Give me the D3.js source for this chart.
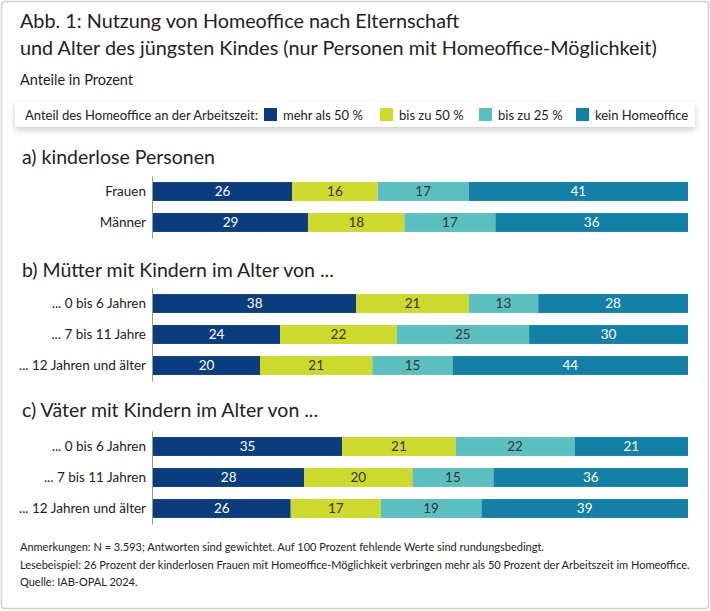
<!DOCTYPE html>
<html>
<head>
<meta charset="utf-8">
<script src="https://cdn.jsdelivr.net/npm/d3@7"></script>
<style>
  body { margin: 0; background: #fff; }
  svg text { font-family: Lato, sans-serif; fill: #222; }
</style>
</head>
<body>
<div id="chart"></div>
<script>
// -------------------- DATA --------------------

const categories = ["mehr als 50 %", "bis zu 50 %", "bis zu 25 %", "kein Homeoffice"];
const colors = ["#0b3d7e", "#cdd92b", "#5bbfbf", "#1380a8"];
const labelColors = ["#fff", "#333", "#333", "#fff"];

const panelTitles = ["a) kinderlose Personen", "b) Mütter mit Kindern im Alter von ...", "c) Väter mit Kindern im Alter von ..."];

const rowsA = ["Frauen", "Männer"];
const valuesA = [[26, 16, 17, 41], [29, 18, 17, 36]];

const rowsB = ["... 0 bis 6 Jahren", "... 7 bis 11 Jahre", "... 12 Jahren und älter"];
const valuesB = [[38, 21, 13, 28], [24, 22, 25, 30], [20, 21, 15, 44]];

const rowsC = ["... 0 bis 6 Jahren", "... 7 bis 11 Jahren", "... 12 Jahren und älter"];
const valuesC = [[35, 21, 22, 21], [28, 20, 15, 36], [26, 17, 19, 39]];

const notes = [
    "Anmerkungen: N = 3.593; Antworten sind gewichtet. Auf 100 Prozent fehlende Werte sind rundungsbedingt.",
    "Lesebeispiel: 26 Prozent der kinderlosen Frauen mit Homeoffice-Möglichkeit verbringen mehr als 50 Prozent der Arbeitszeit im Homeoffice.",
    "Quelle: IAB-OPAL 2024."
];

// -------------------- VISUALIZATION --------------------

const width = 710, height = 611;
const svg = d3.select("#chart").append("svg")
    .attr("width", width).attr("height", height);

const defs = svg.append("defs");
const shadow = defs.append("filter").attr("id", "shadow")
    .attr("x", "-5%").attr("y", "-40%").attr("width", "110%").attr("height", "200%");
shadow.append("feDropShadow").attr("dx", 0).attr("dy", 3).attr("stdDeviation", 3)
    .attr("flood-color", "#000").attr("flood-opacity", 0.2);

// outer frame
svg.append("rect")
    .attr("x", 1.5).attr("y", 1.5).attr("width", width - 3).attr("height", height - 4)
    .attr("rx", 3).attr("fill", "#fff").attr("stroke", "#d0d0d0").attr("stroke-width", 1.5);

// title
svg.append("text").attr("x", 20).attr("y", 28).attr("font-size", 19.8)
    .text("Abb. 1: Nutzung von Homeoffice nach Elternschaft");
svg.append("text").attr("x", 20).attr("y", 55).attr("font-size", 19.8)
    .text("und Alter des jüngsten Kindes (nur Personen mit Homeoffice-Möglichkeit)");
svg.append("text").attr("x", 20).attr("y", 85).attr("font-size", 14.5)
    .text("Anteile in Prozent");

// legend
const legend = svg.append("g");
legend.append("rect")
    .attr("x", 15).attr("y", 102).attr("width", 680).attr("height", 25)
    .attr("fill", "#fff").attr("filter", "url(#shadow)");
legend.append("text").attr("x", 25).attr("y", 120).attr("font-size", 13)
    .text("Anteil des Homeoffice an der Arbeitszeit:");
const legendX = [264, 380, 479, 576];
const items = legend.selectAll("g.item").data(categories).join("g")
    .attr("class", "item")
    .attr("transform", (d, i) => `translate(${legendX[i]},108)`);
items.append("rect").attr("width", 13).attr("height", 13).attr("fill", (d, i) => colors[i]);
items.append("text").attr("x", 19).attr("y", 12).attr("font-size", 13).text(d => d);

// panels
const x = d3.scaleLinear().domain([0, 1]).range([153, 688]);
const rowStep = 31;

const panels = [
    { title: panelTitles[0], rows: rowsA, values: valuesA, titleY: 164, top: 176 },
    { title: panelTitles[1], rows: rowsB, values: valuesB, titleY: 277, top: 288 },
    { title: panelTitles[2], rows: rowsC, values: valuesC, titleY: 417, top: 431 }
];

for (const p of panels) {
    const g = svg.append("g");
    g.append("text").attr("x", 22).attr("y", p.titleY).attr("font-size", 19.5).text(p.title);

    const y = d3.scaleBand()
        .domain(p.rows)
        .range([p.top, p.top + p.rows.length * rowStep])
        .paddingInner(0.39).paddingOuter(0.195);

    // segments are drawn as shares of the row total (some rows sum to 99 or 101)
    const stackData = p.rows.map((r, i) => {
        const o = { row: r };
        const total = d3.sum(p.values[i]);
        categories.forEach((c, j) => o[c] = p.values[i][j] / total);
        o.raw = p.values[i];
        return o;
    });
    const series = d3.stack().keys(categories)(stackData);

    const seg = g.selectAll("g.series").data(series).join("g").attr("class", "series");
    seg.selectAll("rect").data(d => d).join("rect")
        .attr("x", d => x(d[0]))
        .attr("y", d => y(d.data.row))
        .attr("width", d => x(d[1]) - x(d[0]))
        .attr("height", y.bandwidth())
        .attr("fill", function() { return colors[d3.select(this.parentNode).datum().index]; });

    seg.selectAll("text").data(d => d.map(v => ({ v, k: d.index }))).join("text")
        .attr("x", d => (x(d.v[0]) + x(d.v[1])) / 2)
        .attr("y", d => y(d.v.data.row) + y.bandwidth() / 2)
        .attr("dy", "0.36em")
        .attr("text-anchor", "middle")
        .attr("font-size", 13.5)
        .style("fill", d => labelColors[d.k])
        .text(d => d.v.data.raw[d.k]);

    const yAxis = d3.axisLeft(y).tickSize(0).tickPadding(6);
    g.append("g")
        .attr("transform", `translate(${x(0) - 1},0)`)
        .call(yAxis)
        .call(a => a.select(".domain").attr("stroke", "#999"))
        .call(a => a.selectAll("text").attr("font-size", 13.5)
            .attr("font-family", "Lato, sans-serif").style("fill", "#222"));
}

// notes
svg.append("g").selectAll("text").data(notes).join("text")
    .attr("x", 20)
    .attr("y", (d, i) => 551 + i * 17.5)
    .attr("font-size", 11)
    .text(d => d);
</script>
</body>
</html>
